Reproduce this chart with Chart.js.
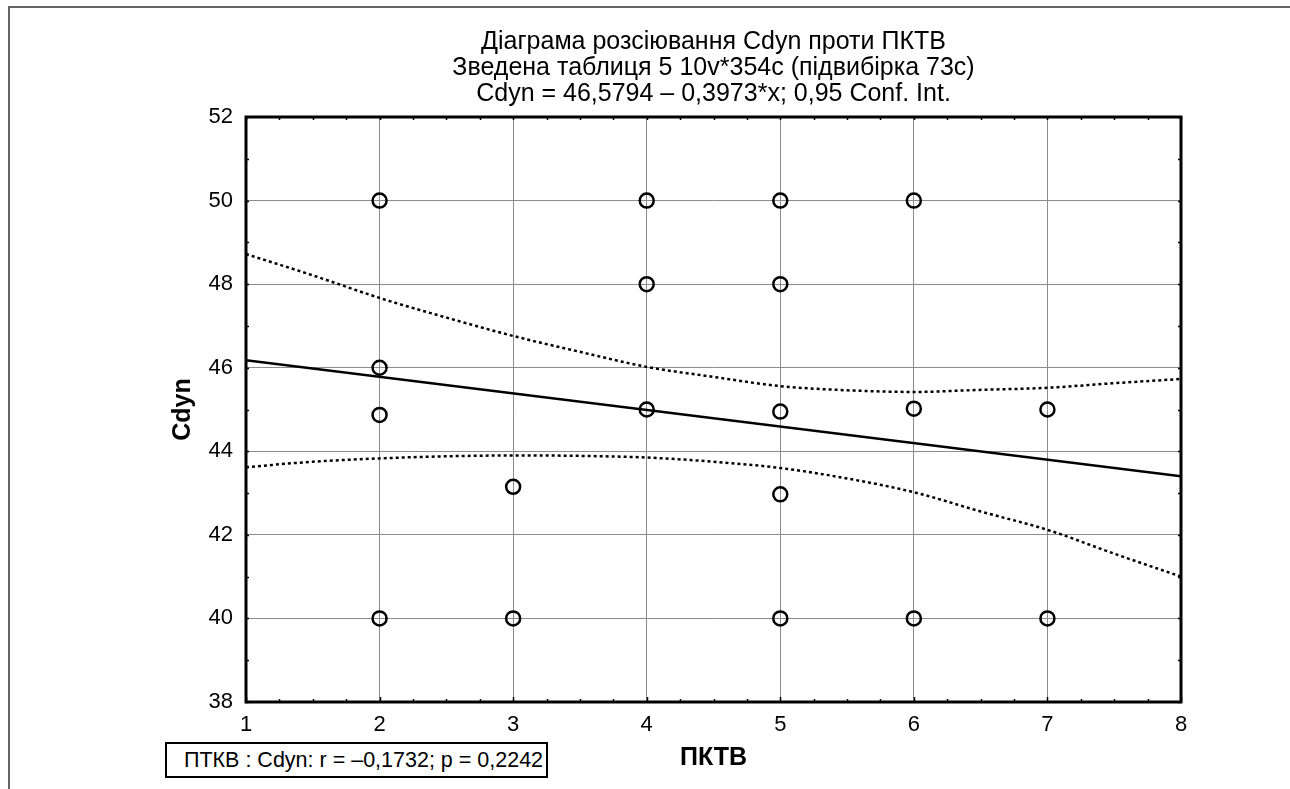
<!DOCTYPE html>
<html>
<head>
<meta charset="utf-8">
<script src="https://cdn.jsdelivr.net/npm/chart.js@4"></script>
<style>
  html, body { margin: 0; padding: 0; background: #fff; }
  #wrap { position: relative; width: 1290px; height: 789px; overflow: hidden; }
  #frame { position: absolute; left: 8px; top: 6px; width: 1300px; height: 800px;
           border-top: 2px solid #666; border-left: 2px solid #666; }
  #chart { position: absolute; left: 0; top: 0; }
  #stat { position: absolute; left: 165px; top: 742px; width: 383px; height: 36px; box-sizing: border-box;
          border: 2px solid #000; background: #fff; padding-left: 17px;
          font: 21.5px "Liberation Sans", Arial, sans-serif; line-height: 32px; color: #000; white-space: nowrap; }
</style>
</head>
<body>
<div id="wrap">
  <div id="frame"></div>
  <canvas id="chart" width="1290" height="789"></canvas>
  <div id="stat">ПТКВ : Cdyn: r = –0,1732; p = 0,2242</div>
</div>
<script>
// дані, зчитані з діаграми
const titleLines = [
    "Діаграма розсіювання Cdyn проти ПКТВ",
    "Зведена таблиця 5 10v*354c (підвибірка 73c)",
    "Cdyn = 46,5794 – 0,3973*x; 0,95 Conf. Int."
];
const xTicks = [1, 2, 3, 4, 5, 6, 7, 8];
const yTicks = [38, 40, 42, 44, 46, 48, 50, 52];

const ptkv = [2, 2, 2, 2, 3, 3, 4, 4, 4, 5, 5, 5, 5, 5, 6, 6, 6, 7, 7];
const cdyn = [50, 46, 44.87, 40, 43.15, 40, 50, 48, 45, 50, 48, 44.95, 42.97, 40, 50, 45.02, 40, 45, 40];

// лінія регресії
const fitX = [1, 8];
const fitY = [46.18, 43.40];

// межі довірчого інтервалу 0,95
const bandX = [1, 1.5, 2, 2.5, 3, 3.5, 4, 4.5, 5, 5.5, 6, 6.5, 7, 7.5, 8];
const bandUpper = [48.72, 48.21, 47.67, 47.2, 46.76, 46.38, 46.02, 45.78, 45.56, 45.46, 45.42, 45.47, 45.52, 45.63, 45.73];
const bandLower = [43.62, 43.75, 43.83, 43.88, 43.9, 43.89, 43.85, 43.75, 43.6, 43.35, 43.02, 42.56, 42.12, 41.55, 41.0];

const FONT = '"Liberation Sans", Arial, sans-serif';

const toXY = (xs, ys) => xs.map((x, i) => ({ x: x, y: ys[i] }));

// рамка навколо області графіка та дрібні риски всередину
const framePlugin = {
    id: 'framePlugin',
    afterDatasetsDraw(chart) {
        const { ctx, chartArea: a, scales: { x, y } } = chart;
        ctx.save();
        ctx.strokeStyle = '#000';
        ctx.lineWidth = 1.5;
        ctx.beginPath();
        for (let v = x.min; v <= x.max + 1e-9; v += 0.25) {
            const px = Math.round(x.getPixelForValue(v)) + 0.5;
            const len = Math.abs(v - Math.round(v)) < 1e-9 ? 5 : 3;
            ctx.moveTo(px, a.bottom); ctx.lineTo(px, a.bottom - len);
            ctx.moveTo(px, a.top); ctx.lineTo(px, a.top + 3);
        }
        for (let v = y.min; v <= y.max + 1e-9; v += 1) {
            const py = Math.round(y.getPixelForValue(v)) + 0.5;
            ctx.moveTo(a.left, py); ctx.lineTo(a.left + 3, py);
            ctx.moveTo(a.right, py); ctx.lineTo(a.right - 3, py);
        }
        ctx.stroke();
        ctx.lineWidth = 3;
        ctx.strokeRect(a.left, a.top, a.right - a.left, a.bottom - a.top);
        ctx.restore();
    }
};

const ctx = document.getElementById('chart').getContext('2d');
const chart = new Chart(ctx, {
    type: 'scatter',
    data: {
        datasets: [
            {
                label: 'Cdyn',
                data: toXY(ptkv, cdyn),
                pointStyle: 'circle',
                pointRadius: 7,
                pointHoverRadius: 7,
                pointBorderWidth: 2.5,
                borderColor: '#000',
                backgroundColor: 'rgba(0,0,0,0)'
            },
            {
                label: 'fit',
                type: 'line',
                data: toXY(fitX, fitY),
                borderColor: '#000',
                borderWidth: 2.5,
                pointRadius: 0,
                fill: false
            },
            {
                label: 'upper',
                type: 'line',
                data: toXY(bandX, bandUpper),
                borderColor: '#000',
                borderWidth: 2.5,
                borderDash: [3, 3],
                pointRadius: 0,
                cubicInterpolationMode: 'monotone',
                fill: false
            },
            {
                label: 'lower',
                type: 'line',
                data: toXY(bandX, bandLower),
                borderColor: '#000',
                borderWidth: 2.5,
                borderDash: [3, 3],
                pointRadius: 0,
                cubicInterpolationMode: 'monotone',
                fill: false
            }
        ]
    },
    options: {
        responsive: false,
        animation: false,
        layout: { padding: { left: 150, right: 109, top: 0, bottom: 0 } },
        plugins: {
            legend: { display: false },
            tooltip: { enabled: false },
            title: {
                display: true,
                fullSize: false,
                text: titleLines,
                color: '#000',
                font: { family: FONT, size: 25, weight: 'normal', lineHeight: 26 / 25 },
                padding: { top: 29, bottom: 10 }
            }
        },
        scales: {
            x: {
                type: 'linear',
                min: 1,
                max: 8,
                afterBuildTicks: (s) => { s.ticks = xTicks.map(v => ({ value: v })); },
                afterFit: (s) => { s.height = 87; },
                grid: { color: '#8c8c8c', lineWidth: 1, drawTicks: false },
                border: { display: false },
                ticks: { color: '#000', padding: 10, font: { family: FONT, size: 22 } },
                title: {
                    display: true,
                    text: 'ПКТВ',
                    color: '#000',
                    font: { family: FONT, size: 25, weight: 'bold' },
                    padding: { top: 0, bottom: 16 }
                }
            },
            y: {
                type: 'linear',
                min: 38,
                max: 52,
                afterBuildTicks: (s) => { s.ticks = yTicks.map(v => ({ value: v })); },
                afterFit: (s) => { s.width = 96; },
                grid: { color: '#8c8c8c', lineWidth: 1, drawTicks: false },
                border: { display: false },
                ticks: { color: '#000', padding: 13, font: { family: FONT, size: 22 } },
                title: {
                    display: true,
                    text: 'Cdyn',
                    color: '#000',
                    font: { family: FONT, size: 25, weight: 'bold' },
                    padding: { top: 18, bottom: 0 }
                }
            }
        }
    },
    plugins: [framePlugin]
});
</script>
</body>
</html>
